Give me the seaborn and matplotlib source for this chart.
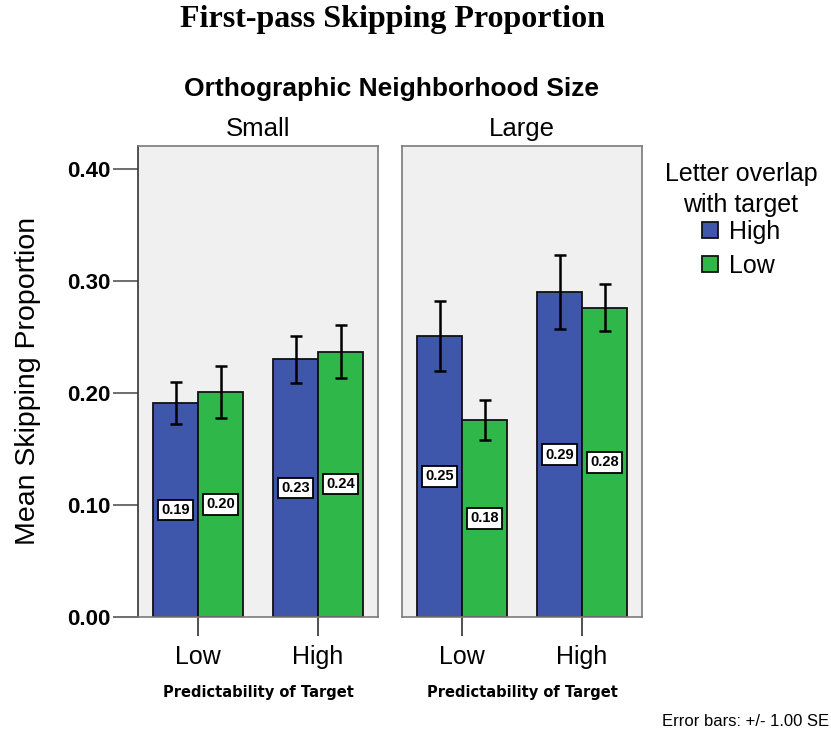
import matplotlib
matplotlib.use("Agg")
import matplotlib.pyplot as plt
import seaborn as sns
import pandas as pd

sns.set_theme(style="white")
plt.rcParams['font.family'] = ['Liberation Sans', 'DejaVu Sans']
plt.rcParams.update({"text.color": "black", "axes.labelcolor": "black",
                     "xtick.color": "black", "ytick.color": "black"})

# Factors
neighborhood = ["Small", "Large"]
predictability = ["Low", "High"]
overlap = ["High", "Low"]

# Means and standard errors, ordered (pred Low: High, Low), (pred High: High, Low)
small_means = [0.191, 0.201, 0.230, 0.237]
small_se = [0.019, 0.023, 0.021, 0.024]
large_means = [0.251, 0.176, 0.290, 0.276]
large_se = [0.031, 0.018, 0.033, 0.021]

yticks = [0.00, 0.10, 0.20, 0.30, 0.40]
palette = {"High": "#3E57AB", "Low": "#2FB74A"}

rows = []
for size, means, ses in [("Small", small_means, small_se), ("Large", large_means, large_se)]:
    k = 0
    for p in predictability:
        for o in overlap:
            rows.append({"size": size, "pred": p, "overlap": o, "mean": means[k], "se": ses[k]})
            k += 1
df = pd.DataFrame(rows)

W, H = 831, 733
fig = plt.figure(figsize=(W / 100, H / 100), dpi=100)
ax_w = 240 / W
ax_h = 471 / H
ax_b = 1 - 617 / H
axes = [fig.add_axes([138 / W, ax_b, ax_w, ax_h]),
        fig.add_axes([402 / W, ax_b, ax_w, ax_h])]

for i, (ax, size) in enumerate(zip(axes, neighborhood)):
    sub = df[df["size"] == size]
    sns.barplot(data=sub, x="pred", y="mean", hue="overlap", order=predictability,
                hue_order=overlap, palette=palette, saturation=1, width=0.75,
                errorbar=None, edgecolor="#111111", linewidth=1.3, ax=ax,
                legend=(i == 0))
    ax.set_facecolor("#F0F0F0")
    ax.set_xlim(-0.5, 1.5)
    ax.set_ylim(0, 0.4205)

    # error bars (+/- 1 SE) at bar centers
    for cont, o in zip(ax.containers, overlap):
        for bar, p in zip(cont, predictability):
            r = sub[(sub["pred"] == p) & (sub["overlap"] == o)].iloc[0]
            ax.errorbar(bar.get_x() + bar.get_width() / 2, r["mean"], yerr=r["se"],
                        fmt="none", ecolor="black", elinewidth=1.8, capsize=4.5,
                        capthick=1.8, zorder=5)
        ax.bar_label(cont, fmt="%.2f", label_type="center", fontsize=10.5,
                     fontweight="bold",
                     bbox=dict(boxstyle="square,pad=0.22", facecolor="white",
                               edgecolor="black", linewidth=1.3))

    for s in ax.spines.values():
        s.set_color("#7a7a7a")
        s.set_linewidth(1.2)
    ax.set_title(size, fontsize=18.5, pad=7)
    ax.set_xlabel("Predictability of Target", fontsize=10.5, fontweight="bold",
                  family="DejaVu Sans", labelpad=12)
    ax.set_ylabel("")
    ax.tick_params(axis="x", bottom=True, length=14, width=1.2, color="#333333",
                   labelsize=18, pad=6)
    if i == 0:
        ax.set_yticks(yticks)
        ax.set_yticklabels([f"{v:.2f}" for v in yticks], fontsize=16, fontweight="bold")
        ax.tick_params(axis="y", left=True, length=18, width=1.2, color="#555555", pad=2)
        ax.spines["left"].set_color("#333333")
    else:
        ax.set_yticks([])

handles, labels = axes[0].get_legend_handles_labels()
axes[0].get_legend().remove()
leg = fig.legend(handles, labels, title="Letter overlap\nwith target",
                 loc="upper center", bbox_to_anchor=(741 / W, 1 - 140 / H),
                 frameon=False, fontsize=18, title_fontsize=18,
                 handlelength=0.65, handleheight=0.65, handletextpad=0.45,
                 labelspacing=0.4)
leg.get_title().set_multialignment("center")
leg.get_title().set_linespacing(1.35)
leg._legend_box.sep = 2

fig.text(392 / W, 1 - 20 / H, "First-pass Skipping Proportion", ha="center",
         va="center", fontsize=23, fontweight="bold", family="Liberation Serif")
fig.text(391 / W, 1 - 89 / H, "Orthographic Neighborhood Size", ha="center",
         va="center", fontsize=19, fontweight="bold")
fig.text(28 / W, 1 - 381 / H, "Mean Skipping Proportion", ha="center",
         va="center", rotation=90, fontsize=20.5)
fig.text(829 / W, 1 - 722 / H, "Error bars: +/- 1.00 SE", ha="right",
         va="center", fontsize=12)

fig.savefig("out.png", dpi=100)
